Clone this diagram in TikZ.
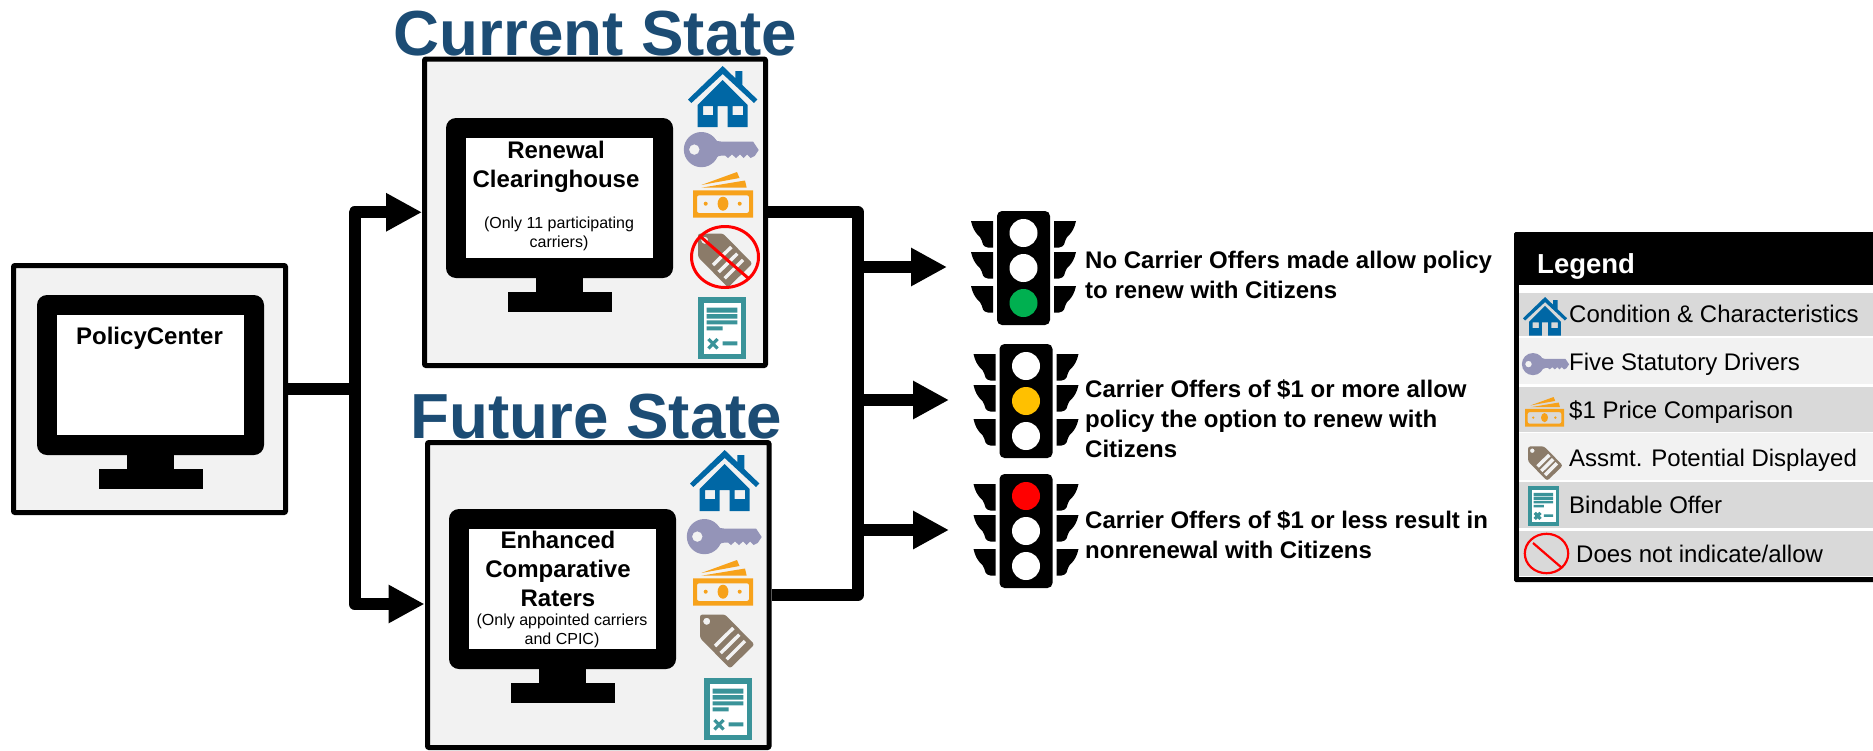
\documentclass[tikz,border=0pt]{standalone}
\usepackage{fontspec}
\setmainfont{Liberation Sans}
\usetikzlibrary{arrows.meta}
\definecolor{boxgray}{HTML}{F2F2F2}
\definecolor{rowgray}{HTML}{D9D9D9}
\definecolor{titleblue}{HTML}{1C4C74}
\definecolor{houseblue}{HTML}{0067A5}
\definecolor{keypurple}{HTML}{9494B8}
\definecolor{moneyorange}{HTML}{F7A21B}
\definecolor{tagbrown}{HTML}{8B7B69}
\definecolor{docteal}{HTML}{3A9399}
\definecolor{lampgreen}{HTML}{00B050}
\definecolor{lampamber}{HTML}{FFC000}
\tikzset{
  x=1pt,y=-1pt,
  panel/.style={draw=black,line width=5pt,fill=boxgray,inner sep=0pt,line join=round,rounded corners=1pt},
  conn/.style={draw=black,line width=12pt,line join=round},
  connarrow/.style={conn,-{Triangle[length=36pt,width=36pt]}},
  title/.style={inner sep=0pt,anchor=base,text=titleblue,font=\fontsize{63.7}{63.7}\selectfont\bfseries},
  bigbold/.style={inner sep=0pt,anchor=base,align=center,font=\fontsize{24}{28.8}\selectfont\bfseries},
  smalltext/.style={inner sep=0pt,anchor=base,align=center,font=\fontsize{16}{18.6}\selectfont},
  outcome/.style={inner sep=0pt,anchor=base west,align=left,font=\fontsize{24}{29.6}\selectfont\bfseries},
  legendtext/.style={inner sep=0pt,anchor=base west,font=\fontsize{24}{24}\selectfont},
  nosign/.style={draw=red,line width=3pt},
  pics/monitor/.style={code={
    \fill[black,rounded corners=10pt] (0,0) rectangle (227,160);
    \fill[white] (20,20) rectangle (207,140);
    \fill[black] (90,155) rectangle (137,175);
    \fill[black] (62,174) rectangle (166,194);
  }},
  pics/house/.style={code={
    \fill[houseblue] (0,33.5) -- (34.7,0) -- (47.3,12.2) -- (47.3,5) -- (54.3,5) -- (54.3,19) -- (69.4,33.5) -- (66,37) -- (34.7,8) -- (3.4,37) -- cycle;
    \fill[houseblue,even odd rule] (9.7,39) -- (34.7,14) -- (59.7,39) -- (59.7,61) -- (39.7,61) -- (39.7,40) -- (29.7,40) -- (29.7,61) -- (9.7,61) -- cycle
      (15,40) rectangle (25,49) (44.7,40) rectangle (55,49);
  }},
  pics/key/.style={code={
    \fill[keypurple,even odd rule] (17.4,17.6) circle[radius=17.6] (10.3,17.6) circle[radius=5.3];
    \fill[keypurple] (26,3) .. controls (29,7) and (32,9.5) .. (37,9.5) -- (69,9.5) -- (74.7,18) -- (70.7,24) -- (66.7,26) -- (63,22.5) -- (59.5,26) -- (56,22.5) -- (52,26) -- (48,22.5) -- (44,26) -- (41,23.5) -- (38,23.5) .. controls (33,23.5) and (30,27) .. (26,32) -- cycle;
  }},
  pics/money/.style={code={
    \fill[moneyorange,even odd rule] (0,18.3) rectangle (60,45.5)
      [rounded corners=2pt] (4,23.3) rectangle (56,41);
    \fill[moneyorange] (30,31.7) ellipse[x radius=5.4,y radius=7];
    \fill[moneyorange] (12.7,31.7) circle[radius=2] (46.7,31.7) circle[radius=2];
    \fill[moneyorange] (8.3,13) -- (44,0) -- (46.5,6) -- cycle;
    \fill[moneyorange] (8.3,15.7) -- (52,8.5) -- (53.7,15.7) -- cycle;
  }},
  pics/tag/.style={code={
    \fill[tagbrown,even odd rule,rounded corners=2.5pt] (0,24) -- (0,0.5) -- (25,0.5) -- (54.5,30.5) -- (30,54.5) -- cycle
      [sharp corners] (6.7,7.3) circle[radius=3.6];
    \draw[boxgray,line width=3.5pt] (15,32) -- (33.3,14) (20.7,39) -- (39.3,20.7) (26.7,45.3) -- (45,27);
  }},
  pics/doc/.style={code={
    \fill[docteal] (0,0) rectangle (48,62);
    \fill[white] (5.7,5.7) rectangle (43,56.7);
    \fill[docteal] (8.7,10.7) rectangle (39.3,15.7) (8.7,17) rectangle (39.3,21.7) (8.7,23.3) rectangle (39.3,27.3) (8.7,29.3) rectangle (24.7,33.3) (24.7,44.3) rectangle (39.3,48.3);
    \draw[docteal,line width=3.2pt] (10.5,42) -- (19.5,51.5) (19.5,42) -- (10.5,51.5);
  }},
  wing/.pic={\fill[black] (0,0) -- (22,0) -- (22,26.5) -- (17,26.5) .. controls (12,26) and (11,22) .. (10.5,19) .. controls (10,15) and (3,14) .. (0,0) -- cycle;},
  pics/light/.style n args={3}{code={
    \pic at (-26,10) {wing}; \pic at (-26,41) {wing}; \pic at (-26,75) {wing};
    \pic[xscale=-1] at (79,10) {wing}; \pic[xscale=-1] at (79,41) {wing}; \pic[xscale=-1] at (79,75) {wing};
    \fill[black,rounded corners=5pt] (0,0) rectangle (53,114);
    \fill[#1] (26.5,22) circle[radius=14];
    \fill[#2] (26.5,57) circle[radius=14];
    \fill[#3] (26.5,92) circle[radius=14];
  }},
}
\begin{document}
\begin{tikzpicture}
\useasboundingbox (0,0) rectangle (1873,750);
% panels
\node[panel,minimum width=272pt,minimum height=247pt] (policy) at (149.5,389) {};
\node[panel,minimum width=341pt,minimum height=306.5pt] (current) at (595,212.25) {};
\node[panel,minimum width=341.5pt,minimum height=305pt] (future) at (598.25,595) {};
% titles
\node[title] (titlecur) at (595.5,55) {Current State};
\node[title] (titlefut) at (596.5,438) {Future State};
% monitors
\pic at (37,295) {monitor};
\pic at (446,118) {monitor};
\pic at (449,509) {monitor};
\node[bigbold] (tpolicy) at (149.5,344) {PolicyCenter};
\node[bigbold] (trenew) at (556,187) {Renewal\\Clearinghouse};
\node[smalltext] (tonly) at (559,247) {(Only 11 participating\\carriers)};
\node[bigbold] (tenh) at (558,606) {Enhanced\\Comparative\\Raters};
\node[smalltext] (tapp) at (562,644) {(Only appointed carriers\\and CPIC)};
% icons current
\pic at (688,66) {house};
\pic at (684,132) {key};
\pic at (693,172) {money};
\pic at (698,233) {tag};
\draw[nosign] (725,257) ellipse[x radius=33.5,y radius=30.5];
\coordinate (slashA) at (701,237);
\coordinate (slashB) at (748,278);
\draw[nosign] (slashA) -- (slashB);
\pic at (698,297) {doc};
% icons future
\pic at (690,450) {house};
\pic at (687,519) {key};
\pic at (693,560) {money};
\pic at (700,614) {tag};
\pic at (704,678) {doc};
% connectors left
\coordinate (trunkL) at (354.5,389);
\coordinate (futureIn) at (424.5,604);
\draw[conn] (policy.east) -- (trunkL);
\draw[connarrow] (trunkL) |- (current.west);
\draw[connarrow] (trunkL) |- (futureIn);
% connectors right
\coordinate (cornerTop) at (858,212.25);
\coordinate (cornerBot) at (858,595);
\draw[conn] (current.east) -- (cornerTop) -- (cornerBot) -- (future.east);
\coordinate (outA) at (858,267);
\coordinate (outB) at (858,400);
\coordinate (outC) at (858,530);
\coordinate (tipA) at (947,267);
\coordinate (tipB) at (949,400);
\coordinate (tipC) at (949,530);
\draw[connarrow] (outA) -- (tipA);
\draw[connarrow] (outB) -- (tipB);
\draw[connarrow] (outC) -- (tipC);
% traffic lights
\pic at (997,211) {light={white}{white}{lampgreen}};
\pic at (999.5,344) {light={white}{lampamber}{white}};
\pic at (999.5,474) {light={red}{white}{white}};
\node[outcome] (outa) at (1085,298) {No Carrier Offers made allow policy\\to renew with Citizens};
\node[outcome] (outb) at (1085,457) {Carrier Offers of \$1 or more allow\\policy the option to renew with\\Citizens};
\node[outcome] (outc) at (1085,558) {Carrier Offers of \$1 or less result in\\nonrenewal with Citizens};
% legend
\fill[black,rounded corners=1.5pt] (1514,232) rectangle (1890,582);
\fill[white] (1519,285) rectangle (1873,577);
\fill[rowgray] (1519,293) rectangle (1873,336);
\fill[boxgray] (1519,338) rectangle (1873,384);
\fill[rowgray] (1519,387) rectangle (1873,432);
\fill[boxgray] (1519,433) rectangle (1873,480);
\fill[rowgray] (1519,482) rectangle (1873,528);
\fill[rowgray] (1519,531) rectangle (1873,576);
\node[inner sep=0pt,anchor=base west,text=white,font=\fontsize{27.5}{27.5}\selectfont\bfseries] (lhead) at (1537,273) {Legend};
\pic[scale=.635] at (1523,297) {house};
\pic[scale=.63] at (1522,353) {key};
\pic[scale=.65] at (1525,397) {money};
\pic[scale=.64] at (1528,446) {tag};
\pic[scale=.64] at (1528,486) {doc};
\draw[nosign,line width=2.2pt] (1546.5,553.5) ellipse[x radius=21.7,y radius=19.7];
\coordinate (lslashA) at (1533,543);
\coordinate (lslashB) at (1562,568);
\draw[nosign,line width=2.2pt] (lslashA) -- (lslashB);
\node[legendtext] (la) at (1569,322) {Condition \& Characteristics};
\node[legendtext] (lb) at (1569,370) {Five Statutory Drivers};
\node[legendtext] (lc) at (1569,418) {\$1 Price Comparison};
\node[legendtext] (ld) at (1569,466) {Assmt. Potential Displayed};
\node[legendtext] (le) at (1569,513) {Bindable Offer};
\node[legendtext] (lf) at (1576,562) {Does not indicate/allow};
\end{tikzpicture}
\end{document}
